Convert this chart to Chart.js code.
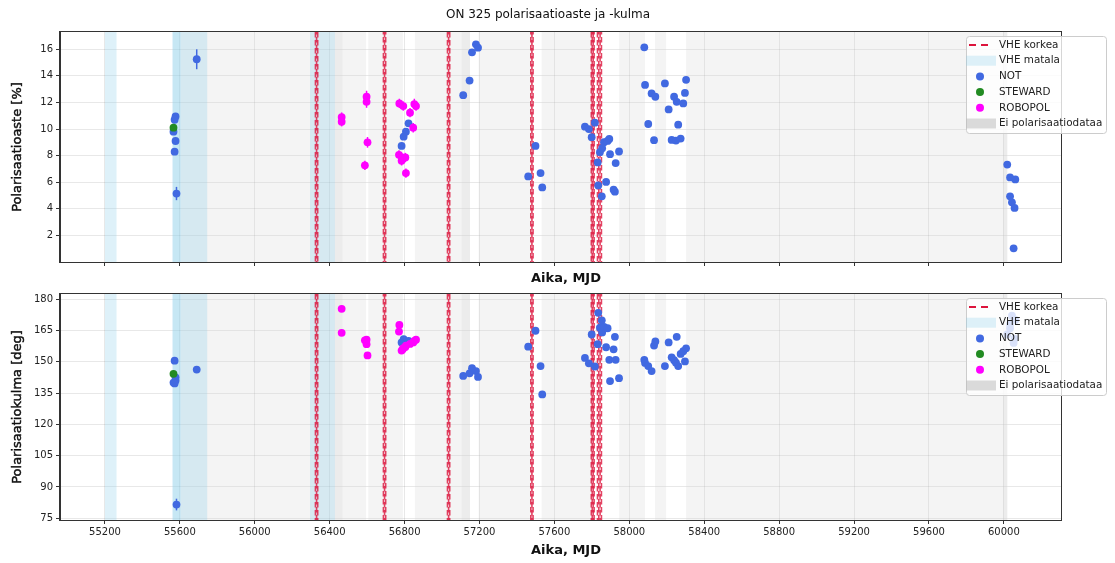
<!DOCTYPE html>
<html><head><meta charset="utf-8">
<script src="https://cdn.jsdelivr.net/npm/chart.js@4.4.1/dist/chart.umd.min.js"></script>
<style>
html,body{margin:0;padding:0;background:#fff;}
#wrap{position:relative;width:1115px;height:563px;overflow:hidden;}
.c{position:absolute;left:0;}
</style></head>
<body><div id="wrap">
<div class="c" style="top:0;width:1115px;height:285px"><canvas id="c1" width="1115" height="285"></canvas></div>
<div class="c" style="top:285px;width:1115px;height:278px"><canvas id="c2" width="1115" height="278"></canvas></div>
</div>
<script>
// ---------- data ----------
const notMjd = [55577,55572,55566,55577,55572,55582,55690,
  56784,56795,56807,56821,
  57113,57147,57160,57181,57192,
  57460,57499,57526,57535,
  57763,57784,57799,57816,57831,57834,57843,57853,57855,57865,57876,57884,57893,57897,57916,57923,57927,57945,
  58080,58084,58101,58119,58132,58139,58190,58210,58226,58239,58249,58253,58261,58274,58288,58297,58303,
  60018,60033,60033,60043,60052,60057,60061];
const notDeg = [10.95,10.7,9.8,9.1,8.3,5.15,15.25,
  8.73,9.43,9.8,10.43,
  12.55,13.65,15.77,16.37,16.12,
  6.44,8.73,6.69,5.61,
  10.18,10.0,9.39,10.48,7.49,5.76,8.26,4.94,8.56,9.01,6.02,9.11,9.26,8.11,5.44,5.29,7.44,8.31,
  16.15,13.32,10.38,12.68,9.16,12.43,13.43,11.48,9.18,12.43,9.13,12.05,10.33,9.28,11.93,12.72,13.7,
  7.33,6.36,4.94,4.49,1.03,4.07,6.21];
const notDegErr = [0.2,0.2,0.2,0.2,0.25,0.5,0.75,
  0.2,0.2,0.2,0.2, 0.2,0.2,0.2,0.2,0.2, 0.2,0.2,0.2,0.2,
  0.2,0.2,0.2,0.2,0.2,0.2,0.2,0.2,0.2,0.2,0.2,0.2,0.2,0.2,0.2,0.2,0.2,0.2,
  0.2,0.2,0.2,0.2,0.2,0.2,0.2,0.2,0.2,0.2,0.2,0.2,0.2,0.2,0.2,0.2,0.2,
  0.2,0.2,0.2,0.2,0.2,0.2,0.2];
const notAng = [142.5,150.5,140.0,141.0,139.6,81.6,146.2,
  159.2,160.8,158.5,160.0,
  143.2,144.4,146.9,145.5,142.7,
  157.2,164.8,147.9,134.3,
  151.8,149.2,163.0,147.7,158.4,173.4,166.3,169.8,164.0,166.6,156.9,166.0,150.9,140.7,155.9,161.9,150.9,142.1,
  150.9,149.4,147.9,145.5,157.7,159.7,147.9,159.2,152.1,150.7,149.5,161.9,147.9,153.7,155.0,150.1,156.4,
  163.0,166.0,168.0,172.0,159.0,161.0,170.0];
const notAngErr = [1,1,1,1,1.2,2.8,1.5,
  1,1,1,1, 1,1,1,1,1, 1,1,1,1,
  1,1,1,1,1,1,1,1,1,1,1,1,1,1,1,1,1,1,
  1,1,1,1,1,1,1,1,1,1,1,1,1,1,1,1,1,
  1,1,1,1,1,1,1];

const stewardMjd = [55566];
const stewardDeg = [10.1];
const stewardAng = [144.2];

const robopolMjd = [56464,56464,56597,56597,56602,56588,
  56772,56793,56829,56852,56861,56846,56770,56790,56804,56784,56807];
const robopolDeg = [10.9,10.55,12.43,12.05,9.0,7.27,
  11.93,11.73,11.23,11.88,11.73,10.1,8.06,7.81,7.86,7.61,6.69];
const robopolDegErr = [0.35,0.35,0.45,0.45,0.4,0.35,
  0.35,0.35,0.35,0.4,0.35,0.35,0.35,0.35,0.35,0.35,0.35];
const robopolAng = [175.3,163.8,160.5,158.4,153.0,160.2,
  167.6,156.5,158.5,160.0,160.5,159.2,164.4,156.0,157.0,155.3,157.7];
const robopolAngErr = [1,1,1,1,1,1,1,1,1,1,1,1,1,1,1,1,1];

const vheHighMjd = [56324,56330,56336,56687,56693,56699,57029,57035,57041,57474,57480,57486,
  57797,57802,57807,57812,57830,57837,57844,57851];
const vheLowStart = [55200,55561,55561,56295];
const vheLowEnd   = [55262,55604,55746,56428];
const noDataStart = [55604,56428,56606,56855,57105,57195,57532,57946,58137,58303,59995];
const noDataEnd   = [56469,56594,56791,57149,57149,57480,57800,58084,58196,60018,60018];

const xTicks = [55200,55600,56000,56400,56800,57200,57600,58000,58400,58800,59200,59600,60000];
const degTicks = [2,4,6,8,10,12,14,16];
const angTicks = [75,90,105,120,135,150,165,180];

const titleText = 'ON 325 polarisaatioaste ja -kulma';
const xTitle = 'Aika, MJD';
const legendLabels = ['VHE korkea','VHE matala','NOT','STEWARD','ROBOPOL','Ei polarisaatiodataa'];

// ---------- styling ----------
const FONT = "'DejaVu Sans', sans-serif";
const C_NOT = '#4169E1', C_STW = '#228B22', C_ROB = '#FF00FF', C_VHE = 'rgba(220,20,60,0.8)';
const C_LOW = 'rgba(135,206,235,0.28)', C_GAP = 'rgba(211,211,211,0.26)';

function pts(xs, ys){ return xs.map((m,i)=>({x:m, y:ys[i]})); }

function makePlugin(o){
  return {
    id:'custom'+o.id,
    beforeDatasetsDraw(chart){
      const {ctx, chartArea:a, scales:{x,y}} = chart;
      ctx.save();
      ctx.beginPath(); ctx.rect(a.left,a.top,a.right-a.left,a.bottom-a.top); ctx.clip();
      ctx.fillStyle = C_GAP;
      for(let i=0;i<noDataStart.length;i++){
        const x0=x.getPixelForValue(noDataStart[i]), x1=x.getPixelForValue(noDataEnd[i]);
        ctx.fillRect(x0,a.top,x1-x0,a.bottom-a.top);
      }
      ctx.fillStyle = C_LOW;
      for(let i=0;i<vheLowStart.length;i++){
        const x0=x.getPixelForValue(vheLowStart[i]), x1=x.getPixelForValue(vheLowEnd[i]);
        ctx.fillRect(x0,a.top,x1-x0,a.bottom-a.top);
      }
      ctx.strokeStyle = C_VHE; ctx.lineWidth = 1.6;
      vheHighMjd.forEach((d,i)=>{
        const px = x.getPixelForValue(d);
        ctx.setLineDash([5.5,2.5]); ctx.lineDashOffset = (i%2)*3;
        ctx.beginPath(); ctx.moveTo(px,a.top); ctx.lineTo(px,a.bottom); ctx.stroke();
      });
      ctx.setLineDash([]); ctx.lineDashOffset = 0;
      chart.data.datasets.forEach(ds=>{
        if(!ds.err) return;
        ctx.strokeStyle = ds.backgroundColor; ctx.lineWidth = 1.5;
        ds.data.forEach((p,j)=>{
          const e = ds.err[j]; if(!e) return;
          const px = x.getPixelForValue(p.x);
          ctx.beginPath(); ctx.moveTo(px,y.getPixelForValue(p.y-e)); ctx.lineTo(px,y.getPixelForValue(p.y+e)); ctx.stroke();
        });
      });
      ctx.restore();
    },
    afterDatasetsDraw(chart){
      const {ctx, chartArea:a} = chart;
      ctx.save();
      ctx.strokeStyle = '#333'; ctx.lineWidth = 1;
      ctx.strokeRect(Math.round(a.left)-0.5, Math.round(a.top)-0.5, Math.round(a.right-a.left)+1, Math.round(a.bottom-a.top)+1);
      ctx.restore();
    },
    afterDraw(chart){
      const {ctx, chartArea:a} = chart;
      ctx.save();
      ctx.fillStyle = '#111';
      if(o.title){
        ctx.font = '12px '+FONT; ctx.textAlign='center'; ctx.textBaseline='middle';
        ctx.fillText(titleText, 548, 15);
      }
      ctx.font = 'bold 13px '+FONT; ctx.textAlign='center'; ctx.textBaseline='middle';
      ctx.fillText(xTitle, 566, o.xTitleY);
      ctx.save();
      ctx.translate(18,(a.top+a.bottom)/2); ctx.rotate(-Math.PI/2);
      ctx.font = '13px '+FONT; ctx.fillText(o.yTitle,0,0);
      ctx.strokeStyle='#111'; ctx.lineWidth=0.45; ctx.strokeText(o.yTitle,0,0);
      ctx.restore();
      // legend
      const bx=966, bw=140, by=a.top+4, bh=97;
      ctx.beginPath();
      if(ctx.roundRect) ctx.roundRect(bx+0.5,by+0.5,bw,bh,3); else ctx.rect(bx+0.5,by+0.5,bw,bh);
      ctx.fillStyle='rgba(255,255,255,0.8)'; ctx.fill();
      ctx.strokeStyle='#cccccc'; ctx.lineWidth=1; ctx.stroke();
      const rows=[9,24.7,40.4,56.1,71.8,87.5].map(v=>by+v);
      ctx.strokeStyle='#DC143C'; ctx.lineWidth=2; ctx.setLineDash([7,5]);
      ctx.beginPath(); ctx.moveTo(969,rows[0]); ctx.lineTo(989,rows[0]); ctx.stroke();
      ctx.setLineDash([]);
      ctx.fillStyle='rgba(135,206,235,0.28)'; ctx.fillRect(966,rows[1]-5,30,10);
      [[C_NOT,2],[C_STW,3],[C_ROB,4]].forEach(([c,r])=>{
        ctx.fillStyle=c; ctx.beginPath(); ctx.arc(980,rows[r],4,0,Math.PI*2); ctx.fill();
      });
      ctx.fillStyle='rgba(190,190,190,0.55)'; ctx.fillRect(966,rows[5]-5,30,10);
      ctx.fillStyle='#222'; ctx.font='10.4px '+FONT; ctx.textAlign='left'; ctx.textBaseline='middle';
      legendLabels.forEach((t,i)=>ctx.fillText(t,999,rows[i]));
      ctx.restore();
    }
  };
}

function makeChart(o){
  const tickFont = {family:FONT, size:10};
  return new Chart(document.getElementById(o.canvas), {
    type:'scatter',
    data:{datasets:[
      {label:'NOT', data:pts(notMjd,o.notY), err:o.notErr, backgroundColor:C_NOT, pointRadius:3.9, pointBorderWidth:0, borderWidth:0, order:3},
      {label:'STEWARD', data:pts(stewardMjd,o.stwY), backgroundColor:C_STW, pointRadius:3.9, pointBorderWidth:0, borderWidth:0, order:2},
      {label:'ROBOPOL', data:pts(robopolMjd,o.robY), err:o.robErr, backgroundColor:C_ROB, pointRadius:3.9, pointBorderWidth:0, borderWidth:0, order:1}
    ]},
    options:{
      responsive:false, animation:false, devicePixelRatio:1,
      layout:{padding:{top:o.padTop,right:54,left:0,bottom:0}},
      plugins:{legend:{display:false}, tooltip:{enabled:false}},
      events:[],
      scales:{
        x:{type:'linear', min:54960, max:60305,
          afterBuildTicks:s=>{s.ticks=xTicks.map(v=>({value:v}));},
          afterFit:s=>{s.height=o.xh;},
          ticks:{display:o.showX, font:tickFont, color:'#222', maxRotation:0, autoSkip:false, padding:2, callback:v=>String(v)},
          grid:{color:'rgba(0,0,0,0.09)', tickColor:'#333', tickLength:4, lineWidth:1},
          border:{display:true, color:'#333'}},
        y:{type:'linear', min:o.ymin, max:o.ymax,
          afterBuildTicks:s=>{s.ticks=o.yTicks.map(v=>({value:v}));},
          afterFit:s=>{s.width=60;},
          ticks:{font:tickFont, color:'#222', padding:3, callback:v=>String(v)},
          grid:{color:'rgba(0,0,0,0.09)', tickColor:'#333', tickLength:4, lineWidth:1},
          border:{display:true, color:'#333'}}
      }
    },
    plugins:[makePlugin(o)]
  });
}

makeChart({id:1, canvas:'c1', title:true, padTop:32, xh:23, showX:false, ymin:0, ymax:17.3, yTicks:degTicks,
  notY:notDeg, notErr:notDegErr, stwY:stewardDeg, robY:robopolDeg, robErr:robopolDegErr,
  yTitle:'Polarisaatioaste [%]', xTitleY:279});
makeChart({id:2, canvas:'c2', title:false, padTop:6, xh:43, showX:true, ymin:74.2, ymax:182.4, yTicks:angTicks,
  notY:notAng, notErr:notAngErr, stwY:stewardAng, robY:robopolAng, robErr:robopolAngErr,
  yTitle:'Polarisaatiokulma [deg]', xTitleY:266});
</script>
</body></html>
